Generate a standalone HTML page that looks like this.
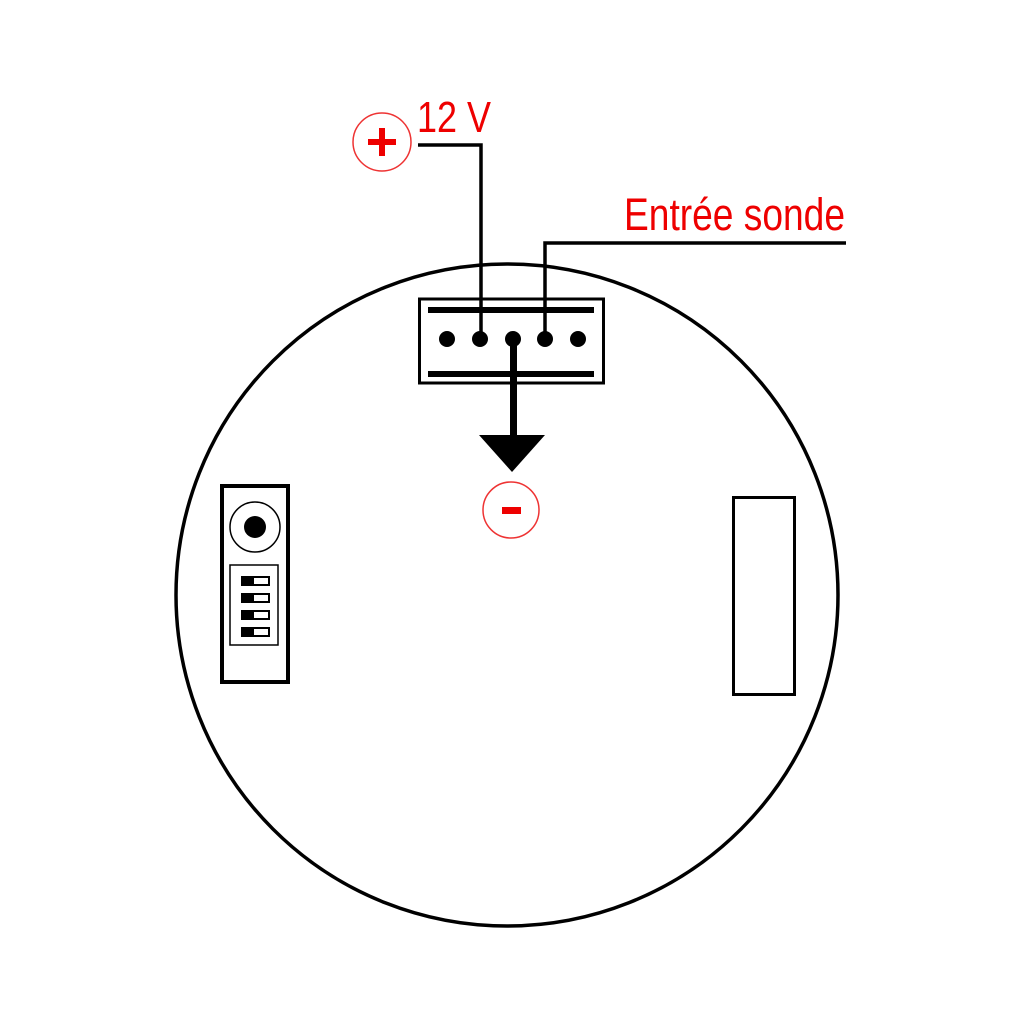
<!DOCTYPE html>
<html><head><meta charset="utf-8"><style>html,body{margin:0;padding:0;background:#fff}svg{display:block}</style></head>
<body>
<svg width="1024" height="1024" viewBox="0 0 1024 1024" xmlns="http://www.w3.org/2000/svg">
<rect width="1024" height="1024" fill="#fff"/>
<circle cx="507" cy="595" r="331" fill="none" stroke="#000" stroke-width="3.5"/>
<!-- plus -->
<circle cx="382" cy="142" r="29" fill="none" stroke="#e33" stroke-width="1.5"/>
<rect x="368" y="139" width="28" height="6" fill="#e00"/>
<rect x="379" y="128" width="6" height="28" fill="#e00"/>
<text x="417" y="132" font-family="Liberation Sans, sans-serif" font-size="44" fill="#e00" textLength="74" lengthAdjust="spacingAndGlyphs">12 V</text>
<text x="624" y="230" font-family="Liberation Sans, sans-serif" font-size="45" fill="#e00" textLength="221" lengthAdjust="spacingAndGlyphs">Entrée sonde</text>
<!-- wires -->
<polyline points="418,145 481,145 481,340" fill="none" stroke="#000" stroke-width="3.5"/>
<polyline points="846,243 545,243 545,340" fill="none" stroke="#000" stroke-width="3.5"/>
<!-- connector -->
<rect x="419.5" y="299" width="184" height="84" fill="none" stroke="#000" stroke-width="3"/>
<rect x="428" y="307" width="166" height="6" fill="#000"/>
<rect x="428" y="371" width="166" height="6" fill="#000"/>
<g fill="#000">
<circle cx="447" cy="339" r="8"/><circle cx="480" cy="339" r="8"/><circle cx="513" cy="339" r="8"/><circle cx="545" cy="339" r="8"/><circle cx="578" cy="339" r="8"/>
</g>
<rect x="510" y="339" width="7" height="100" fill="#000"/>
<polygon points="479,435 545,435 512,472" fill="#000"/>
<!-- minus -->
<circle cx="511" cy="510" r="28" fill="none" stroke="#e33" stroke-width="1.5"/>
<rect x="502" y="507" width="19" height="7" fill="#e00"/>
<!-- left module -->
<rect x="222" y="486" width="66" height="196" fill="none" stroke="#000" stroke-width="4"/>
<circle cx="255" cy="527" r="25" fill="none" stroke="#000" stroke-width="1.5"/>
<circle cx="255" cy="527" r="11" fill="#000"/>
<rect x="230" y="565" width="48" height="80" fill="none" stroke="#000" stroke-width="1.5"/>
<g>
<rect x="241" y="576" width="29" height="10" fill="#000"/><rect x="254" y="578" width="14" height="6" fill="#fff"/>
<rect x="241" y="593" width="29" height="10" fill="#000"/><rect x="254" y="595" width="14" height="6" fill="#fff"/>
<rect x="241" y="610" width="29" height="10" fill="#000"/><rect x="254" y="612" width="14" height="6" fill="#fff"/>
<rect x="241" y="627" width="29" height="10" fill="#000"/><rect x="254" y="629" width="14" height="6" fill="#fff"/>
</g>
<!-- right rect -->
<rect x="733.5" y="497.5" width="61" height="197" fill="none" stroke="#000" stroke-width="3"/>
</svg>
</body></html>
